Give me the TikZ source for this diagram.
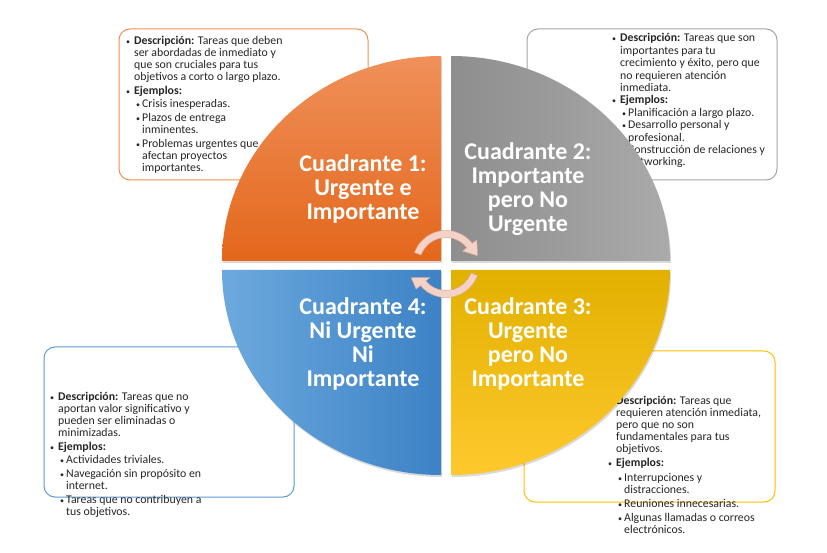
\documentclass[tikz,border=0pt]{standalone}
\usepackage{fontspec}
\setmainfont{Carlito}
\usetikzlibrary{arrows.meta,calc}
\definecolor{orA}{HTML}{F0905A}
\definecolor{orB}{HTML}{E3671B}
\definecolor{grA}{HTML}{8E8E8E}
\definecolor{grB}{HTML}{AAAAAA}
\definecolor{blA}{HTML}{6CA9DE}
\definecolor{blB}{HTML}{3C82C5}
\definecolor{yeA}{HTML}{E2B000}
\definecolor{yeB}{HTML}{FFC92E}
\definecolor{orLine}{HTML}{F2914F}
\definecolor{grLine}{HTML}{A5A5A5}
\definecolor{blLine}{HTML}{5B9BD5}
\definecolor{yeLine}{HTML}{FFC000}
\definecolor{txt}{HTML}{262626}
\definecolor{pinkA}{HTML}{F4D2C7}
\definecolor{pinkB}{HTML}{DDA898}
\newcommand\smbul{{\fontsize{8}{8}\selectfont •}}
\newcommand\bxa[1]{\makebox[8pt][l]{\smbul}#1}
\newcommand\bxb[1]{\hspace*{8pt}#1}
\newcommand\bxc[1]{\hspace*{10pt}\makebox[6pt][l]{\smbul}#1}
\newcommand\bxd[1]{\hspace*{16pt}#1}
\begin{document}
\begin{tikzpicture}[x=1pt,y=1pt,
 infobox/.style={draw, line width=1pt, rounded corners=11pt, fill=white},
 infotext/.style={anchor=north west, inner sep=0pt, align=left, text=txt, font=\fontsize{11.8}{12}\selectfont},
 qlabel/.style={text=white, align=center, inner sep=0pt, font=\fontsize{24}{24}\selectfont\bfseries},
 qshadow/.style={fill=black, opacity=0.15},
 cyc/.style={fill=pinkA, draw=pinkB, line width=0.5pt, line join=round}
]
\useasboundingbox (0,0) rectangle (827,552);
\fill[white] (0,0) rectangle (827,552);

% boxes
\draw[infobox, draw=orLine] (119,372) rectangle (368,523);
\draw[infobox, draw=grLine] (527,372) rectangle (777,523);
\draw[infobox, draw=blLine] (44,55) rectangle (294,205);
\draw[infobox, draw=yeLine] (524,50) rectangle (775,201);

% box texts
\node[infotext] (t1) at (126,515.5) {%
\bxa{\textbf{Descripción:} Tareas que deben}\\
\bxb{ser abordadas de inmediato y}\\
\bxb{que son cruciales para tus}\\
\bxb{objetivos a corto o largo plazo.}\\[2pt]
\bxa{\textbf{Ejemplos:}}\\[1pt]
\bxc{Crisis inesperadas.}\\[2pt]
\bxc{Plazos de entrega}\\
\bxd{inminentes.}\\[2pt]
\bxc{Problemas urgentes que}\\
\bxd{afectan proyectos}\\
\bxd{importantes.}};

\node[infotext, font=\fontsize{11.8}{12.4}\selectfont] (t2) at (612,518.5) {%
\bxa{\textbf{Descripción:} Tareas que son}\\
\bxb{importantes para tu}\\
\bxb{crecimiento y éxito, pero que}\\
\bxb{no requieren atención}\\
\bxb{inmediata.}\\
\bxa{\textbf{Ejemplos:}}\\
\bxc{Planificación a largo plazo.}\\
\bxc{Desarrollo personal y}\\
\bxd{profesional.}\\
\bxc{Construcción de relaciones y}\\
\bxd{networking.}};

\node[infotext] (t4) at (50,159.5) {%
\bxa{\textbf{Descripción:} Tareas que no}\\
\bxb{aportan valor significativo y}\\
\bxb{pueden ser eliminadas o}\\
\bxb{minimizadas.}\\[2pt]
\bxa{\textbf{Ejemplos:}}\\[1pt]
\bxc{Actividades triviales.}\\[2pt]
\bxc{Navegación sin propósito en}\\
\bxd{internet.}\\[2pt]
\bxc{Tareas que no contribuyen a}\\
\bxd{tus objetivos.}};

\node[infotext] (t3) at (608,155.5) {%
\bxa{\textbf{Descripción:} Tareas que}\\
\bxb{requieren atención inmediata,}\\
\bxb{pero que no son}\\
\bxb{fundamentales para tus}\\
\bxb{objetivos.}\\[2pt]
\bxa{\textbf{Ejemplos:}}\\[3pt]
\bxc{Interrupciones y}\\
\bxd{distracciones.}\\[2pt]
\bxc{Reuniones innecesarias.}\\[2pt]
\bxc{Algunas llamadas o correos}\\
\bxd{electrónicos.}};

% shadows
\fill[qshadow] (442,289) -- (223,289) arc[start angle=180,end angle=90,x radius=219,y radius=205] -- cycle;
\fill[qshadow] (452,289) -- (452,494) arc[start angle=90,end angle=0,x radius=219,y radius=205] -- cycle;
\fill[qshadow] (442,280) -- (223,280) arc[start angle=180,end angle=270,x radius=219,y radius=205] -- cycle;
\fill[qshadow] (452,280) -- (671,280) arc[start angle=0,end angle=-90,x radius=219,y radius=205] -- cycle;

% quadrants
\shade[top color=orA, bottom color=orB] (441,291) -- (222,291) arc[start angle=180,end angle=90,x radius=219,y radius=205] -- cycle;
\shade[left color=grA, right color=grB] (451,291) -- (451,496) arc[start angle=90,end angle=0,x radius=219,y radius=205] -- cycle;
\shade[left color=blA, right color=blB] (441,282) -- (222,282) arc[start angle=180,end angle=270,x radius=219,y radius=205] -- cycle;
\shade[top color=yeA, bottom color=yeB] (451,282) -- (670,282) arc[start angle=0,end angle=-90,x radius=219,y radius=205] -- cycle;

% labels
\node[qlabel] (q1) at (363,363) {Cuadrante 1:\\Urgente e\\Importante};
\node[qlabel] (q2) at (528,362.5) {Cuadrante 2:\\Importante\\pero No\\Urgente};
\node[qlabel] (q3) at (528,208.5) {Cuadrante 3:\\Urgente\\pero No\\Importante};
\node[qlabel] (q4) at (363,208.5) {Cuadrante 4:\\Ni Urgente\\Ni\\Importante};

% cycle arrows
\coordinate (c) at (446,288);
\draw[cyc] ([shift={(160:33.5)}]c) arc[start angle=160,end angle=38,radius=33.5]
  -- ([shift={(38:39)}]c) -- ($(c)+(38:30)+(-52:13)$) -- ([shift={(38:21)}]c)
  -- ([shift={(38:26.5)}]c) arc[start angle=38,end angle=160,radius=26.5] -- cycle;
\draw[cyc] ([shift={(-20:33.5)}]c) arc[start angle=-20,end angle=-140,radius=33.5]
  -- ([shift={(-140:39)}]c) -- ($(c)+(-140:30)+(155:13)$) -- ([shift={(-140:21)}]c)
  -- ([shift={(-140:26.5)}]c) arc[start angle=-140,end angle=-20,radius=26.5] -- cycle;
\end{tikzpicture}
\end{document}
